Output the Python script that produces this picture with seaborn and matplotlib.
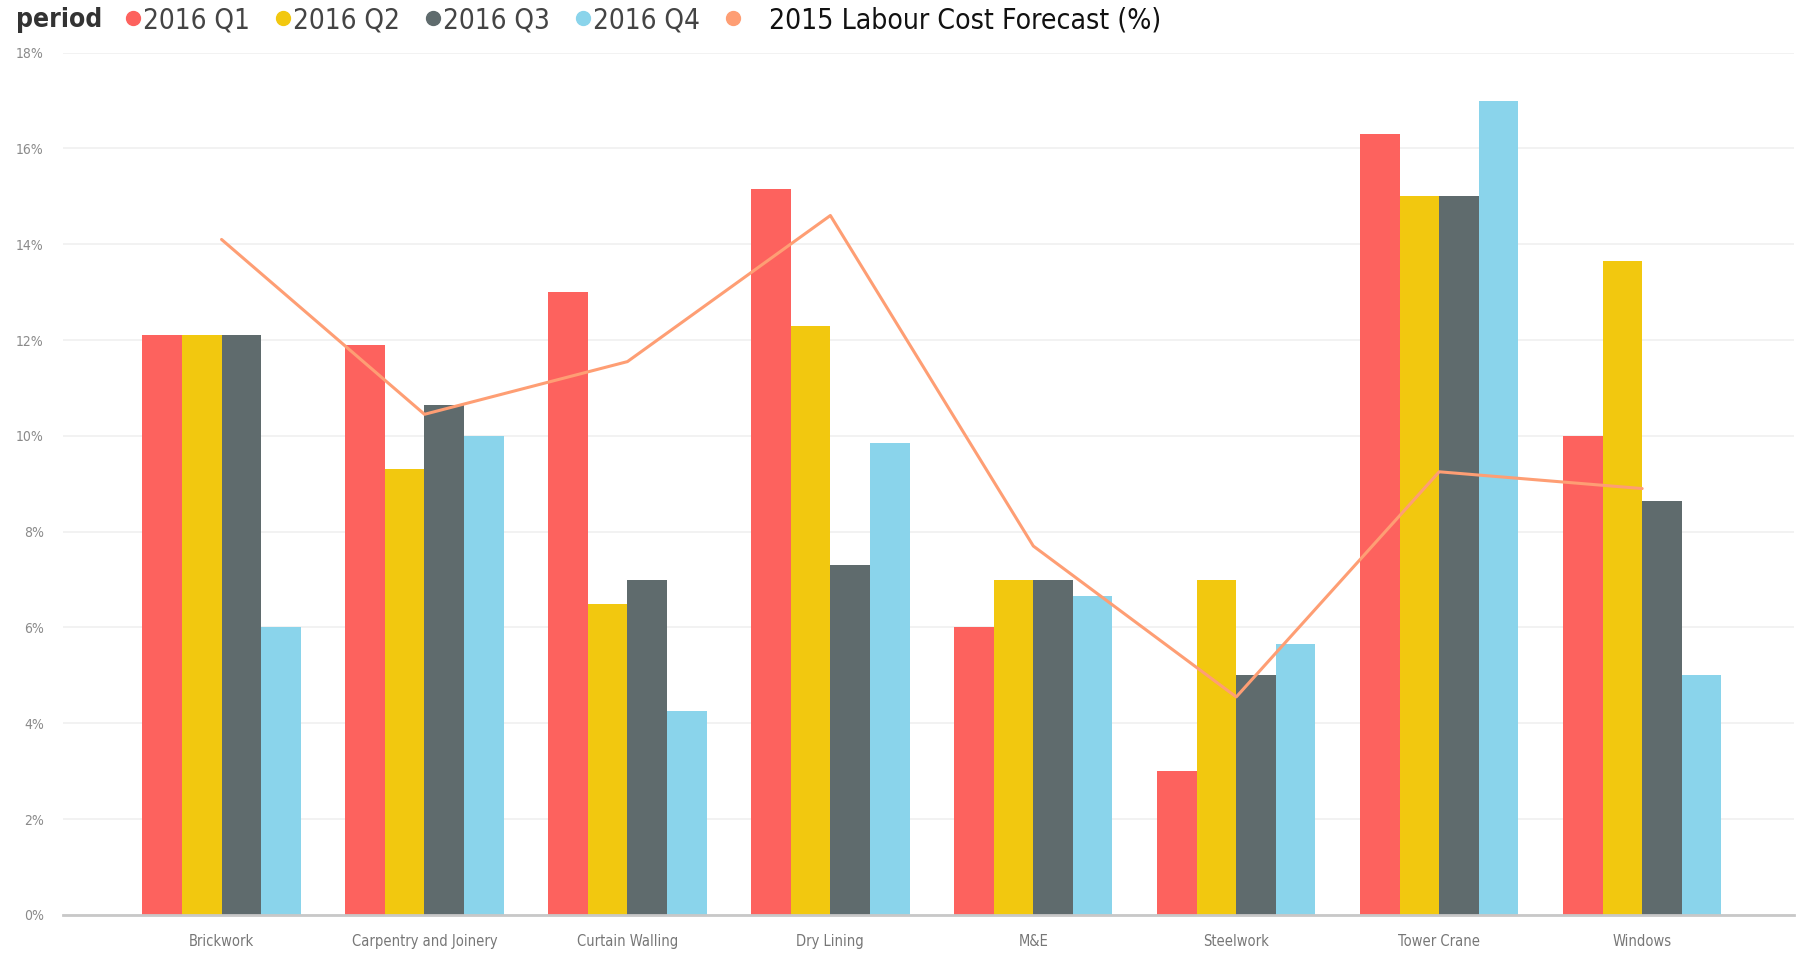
import pandas as pd
import matplotlib.pyplot as plt
import seaborn as sns
from matplotlib.lines import Line2D
from matplotlib.ticker import FuncFormatter

# Data (percent)
trades = ['Brickwork', 'Carpentry and Joinery', 'Curtain Walling', 'Dry Lining',
          'M&E', 'Steelwork', 'Tower Crane', 'Windows']
periods = ['2016 Q1', '2016 Q2', '2016 Q3', '2016 Q4']
q1 = [12.1, 11.9, 13.0, 15.15, 6.0, 3.0, 16.3, 10.0]
q2 = [12.1, 9.3, 6.5, 12.3, 7.0, 7.0, 15.0, 13.65]
q3 = [12.1, 10.65, 7.0, 7.3, 7.0, 5.0, 15.0, 8.65]
q4 = [6.0, 10.0, 4.25, 9.85, 6.65, 5.65, 17.0, 5.0]
forecast = [14.1, 10.45, 11.55, 14.6, 7.7, 4.55, 9.25, 8.9]
forecast_label = '2015 Labour Cost Forecast (%)'

colors = ['#FD625E', '#F2C80F', '#5F6B6D', '#8AD4EB']
line_color = '#FE9E74'

df = pd.DataFrame({'trade': trades * 4,
                   'period': [p for p in periods for _ in trades],
                   'value': q1 + q2 + q3 + q4})

sns.set_style('white')
plt.rcParams['font.family'] = ['DejaVu Sans']
plt.rcParams['font.stretch'] = 'condensed'

fig = plt.figure(figsize=(18.07, 9.57), dpi=100)
ax = fig.add_axes([0.035, 0.044, 0.958, 0.901])

sns.barplot(data=df, x='trade', y='value', hue='period', hue_order=periods,
            palette=colors, saturation=1, width=0.78, errorbar=None,
            edgecolor='none', linewidth=0, legend=False, ax=ax)
sns.pointplot(x=trades, y=forecast, color=line_color, marker='', linewidth=2.2,
              errorbar=None, ax=ax)

ax.set_xlim(-0.78, 7.75)
ax.set_ylim(0, 18)
ax.set_yticks(range(0, 19, 2))
ax.yaxis.set_major_formatter(FuncFormatter(lambda v, p: f'{v:.0f}%'))
ax.grid(axis='y', color='#f0f0f0', linewidth=1.2)
ax.set_axisbelow(True)
for s in ['top', 'right', 'left']:
    ax.spines[s].set_visible(False)
ax.spines['bottom'].set_color('#c8c8c8')
ax.spines['bottom'].set_linewidth(2)
ax.tick_params(axis='y', length=0, labelsize=10, labelcolor='#8a8a8a', pad=14)
ax.tick_params(axis='x', length=0, labelsize=10.5, labelcolor='#777777', pad=14)
ax.set_xlabel('')
ax.set_ylabel('')

# Legend row at the top
fig.text(0.009, 0.979, 'period', fontsize=19, fontweight='bold', color='#333333',
         va='center', ha='left')
q_handles = [Line2D([], [], marker='o', linestyle='', markersize=10, color=c) for c in colors]
leg = fig.legend(q_handles, periods, ncol=4, loc='center left',
                 bbox_to_anchor=(0.070, 0.979), frameon=False, fontsize=20,
                 handlelength=0.5, handletextpad=0.1, columnspacing=0.95,
                 borderaxespad=0, borderpad=0)
for t in leg.get_texts():
    t.set_color('#444444')
f_handle = Line2D([], [], marker='o', linestyle='', markersize=10, color=line_color)
leg2 = fig.legend([f_handle], [forecast_label], loc='center left',
                  bbox_to_anchor=(0.402, 0.979), frameon=False, fontsize=20.3,
                  handlelength=0.5, handletextpad=1.0,
                  borderaxespad=0, borderpad=0)
leg2.get_texts()[0].set_color('#111111')

plt.savefig('out.png', dpi=100)
plt.close()
